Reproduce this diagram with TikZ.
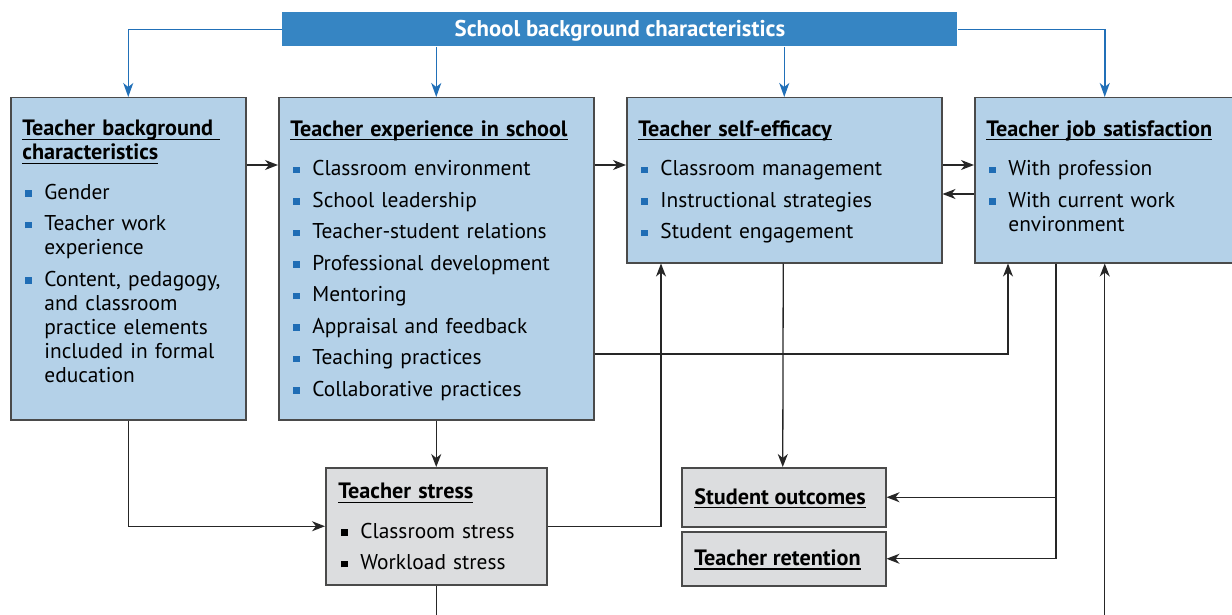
\documentclass[tikz,border=0pt]{standalone}
\usepackage{fontspec}
\setmainfont{PT Sans}
\usetikzlibrary{arrows.meta,positioning,calc}
\definecolor{titleblue}{HTML}{3685C3}
\definecolor{linkblue}{HTML}{2170B8}
\definecolor{boxblue}{HTML}{B4D1E8}
\definecolor{boxgrey}{HTML}{DCDDDF}
\definecolor{edgegrey}{HTML}{4A4A4A}
\definecolor{linkblack}{HTML}{262626}
\definecolor{dotblue}{HTML}{1F6DB5}
\newcommand{\hd}[1]{{\fontsize{11.1}{12}\selectfont\bfseries
  \setbox0\hbox{#1}\rlap{\rule[-1.9pt]{\wd0}{0.6pt}}\box0}}
\newcommand{\hdgap}{\par\vspace{4pt}}
\newcommand{\itm}[2][dotblue]{\par\leftskip=1.5pt\hangindent=9.5pt\hangafter=1\noindent
  \makebox[9.5pt][l]{\raisebox{1.3pt}{\textcolor{#1}{\rule{3.2pt}{3.2pt}}}}#2\par}

\begin{document}
\begin{tikzpicture}[
  x=0.5pt,y=-0.5pt,
  font=\fontsize{10.7}{12}\selectfont,
  box/.style={draw=edgegrey,line width=0.75pt,fill=boxblue,
              anchor=north west,inner sep=0pt},
  greybox/.style={box,fill=boxgrey},
  txt/.style={anchor=north west,inner sep=0pt,align=left,
              execute at begin node=\setlength{\parskip}{3.75pt}},
  arr/.style={-{Stealth[length=6.5pt,width=5pt,inset=2pt]},line width=0.65pt,draw=linkblack},
  barr/.style={-{Stealth[length=7pt,width=5pt,inset=2pt]},line width=0.75pt,draw=linkblue},
  plain/.style={line width=0.65pt,draw=linkblack}
]
\useasboundingbox (0,0) rectangle (1232,615);
\clip (0,0) rectangle (1232,615);

% Boxes
\node[anchor=north west,fill=titleblue,inner sep=0pt,text=white,
      text height=9.5pt,text depth=2.5pt,
      minimum width=337.5pt,minimum height=17pt,font=\fontsize{11.4}{12}\selectfont\bfseries]
  (school) at (282,12) {School background characteristics};
\node[box,minimum width=117.5pt,minimum height=161pt] (bg)  at (10,97)  {};
\node[box,minimum width=157.5pt,minimum height=161pt] (exp) at (278,97) {};
\node[box,minimum width=157.5pt,minimum height=82.5pt] (eff) at (626,97) {};
\node[box,minimum width=130pt,minimum height=82.5pt] (sat) at (974,97) {};
\node[greybox,minimum width=110.5pt,minimum height=58.5pt] (stress) at (325,467) {};
\node[greybox,minimum width=102pt,minimum height=29.5pt] (outcome) at (681,467) {};
\node[greybox,minimum width=102pt,minimum height=27pt] (retain) at (681,531) {};

% Box texts
\node[txt,text width=112pt] (bgtxt) at ($(bg.north west)+(12,23)$)
  {\hd{Teacher background\ }\newline\hd{characteristics}\hdgap
   \itm{Gender}
   \itm{Teacher work\newline experience}
   \itm{Content, pedagogy,\newline and classroom\newline practice elements\newline
        included in formal\newline education}};
\node[txt,text width=150pt] (exptxt) at ($(exp.north west)+(12,23)$)
  {\hd{Teacher experience in school}\hdgap
   \itm{Classroom environment}
   \itm{School leadership}
   \itm{Teacher-student relations}
   \itm{Professional development}
   \itm{Mentoring}
   \itm{Appraisal and feedback}
   \itm{Teaching practices}
   \itm{Collaborative practices}};
\node[txt,text width=150pt] (efftxt) at ($(eff.north west)+(12,23)$)
  {\hd{Teacher self-efficacy}\hdgap
   \itm{Classroom management}
   \itm{Instructional strategies}
   \itm{Student engagement}};
\node[txt,text width=125pt] (sattxt) at ($(sat.north west)+(12,23)$)
  {\hd{Teacher job satisfaction}\hdgap
   \itm{With profession}
   \itm{With current work\newline environment}};
\node[txt,text width=105pt] (stresstxt) at ($(stress.north west)+(13,16)$)
  {\hd{Teacher stress}\hdgap
   \itm[black]{Classroom stress}
   \itm[black]{Workload stress}};
\node[anchor=west,inner sep=0pt] (outcometxt) at ($(outcome.west)+(13,1)$)
  {\hd{Student outcomes}};
\node[anchor=west,inner sep=0pt] (retaintxt) at ($(retain.west)+(13,1)$)
  {\hd{Teacher retention}};

% School links
\draw[barr] (school.west) -| (bg.north);
\draw[barr] (school.south -| exp.north) -- (exp.north);
\draw[barr] (school.south -| eff.north) -- (eff.north);
\draw[barr] (school.east) -| (sat.north);

% Links between boxes
\draw[arr] ($(bg.north east)+(0,68)$) -- ($(exp.north west)+(0,68)$);
\draw[arr] ($(exp.north east)+(0,68)$) -- ($(eff.north west)+(0,68)$);
\draw[arr] ($(eff.north east)+(0,68)$) -- ($(sat.north west)+(0,68)$);
\draw[arr] ($(sat.north west)+(0,97)$) -- ($(eff.north east)+(0,97)$);
\draw[arr] ($(exp.north east)+(0,257)$) -| ($(sat.south west)+(34,0)$);
\draw[arr] (exp.south) -- (stress.north);
\draw[arr] (bg.south) |- (stress.west);
\draw[arr] (stress.east) -| ($(eff.south west)+(35,0)$);
\draw[arr] ($(eff.south)+(-1,0)$) -- ($(outcome.north)+(-1,0)$);

\coordinate (satdrop) at ($(sat.south west)+(82,0)$);
\draw[arr] (satdrop) |- (outcome.east);
\draw[arr] (satdrop) |- (retain.east);

% Lines leaving the frame
\coordinate (stressout) at ($(stress.south)+(0,40)$);
\draw[plain] (stress.south) -- (stressout);
\coordinate (satin) at ($(sat.south)+(0,380)$);
\draw[arr] (satin) -- (sat.south);
\end{tikzpicture}
\end{document}
